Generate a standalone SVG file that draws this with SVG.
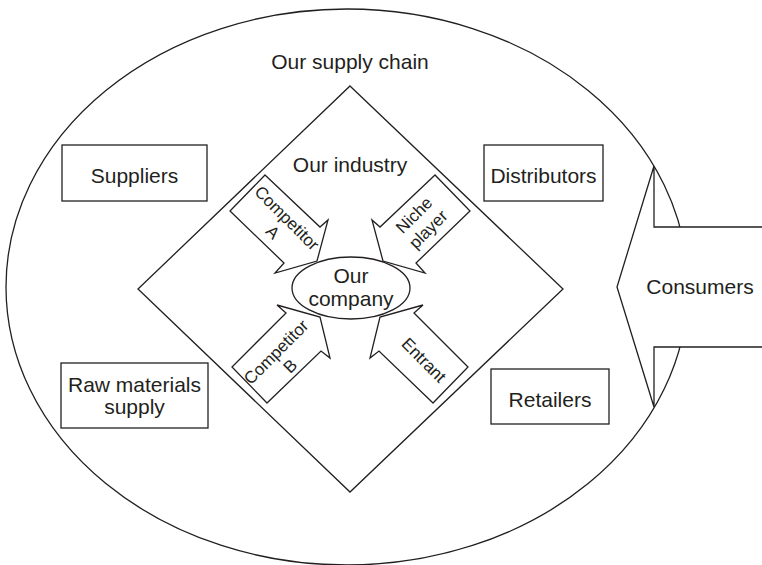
<svg xmlns="http://www.w3.org/2000/svg" width="762" height="565" viewBox="0 0 762 565">
<style>
.ln{fill:none;stroke:#231f20;stroke-width:1.3}
.wf{fill:#fff;stroke:#231f20;stroke-width:1.3;stroke-linejoin:miter}
.t{font-family:"Liberation Sans",Arial,sans-serif;font-size:21px;fill:#231f20;text-anchor:middle}
.s{font-family:"Liberation Sans",Arial,sans-serif;font-size:17px;fill:#231f20;text-anchor:middle}
</style>
<rect width="762" height="565" fill="#fff"/>
<g id="supply-chain">
<ellipse class="ln" cx="347" cy="287" rx="341" ry="278"/>
<text class="t" x="350" y="69">Our supply chain</text>
</g>
<g id="suppliers">
<rect class="wf" x="62" y="145" width="145" height="56"/>
<text class="t" x="134.5" y="183">Suppliers</text>
</g>
<g id="raw-materials">
<rect class="wf" x="61" y="363" width="147" height="65"/>
<text class="t" x="134.5" y="392">Raw materials</text>
<text class="t" x="134.5" y="414">supply</text>
</g>
<g id="distributors">
<rect class="wf" x="484" y="145" width="119" height="56"/>
<text class="t" x="543.5" y="183">Distributors</text>
</g>
<g id="retailers">
<rect class="wf" x="491" y="369" width="118" height="55"/>
<text class="t" x="550" y="407">Retailers</text>
</g>
<g id="industry">
<polygon class="ln" points="350,86 563,289 350,492 138,289"/>
<text class="t" x="350" y="172">Our industry</text>
</g>
<g id="connectors">
<g id="competitor-a">
<polygon class="wf" points="265,175 320,227 328,220 317,261 275,273 284,263 230,211"/>
<text class="s" transform="translate(280,225) rotate(45)"><tspan x="0" y="-4">Competitor</tspan><tspan x="0" y="16">A</tspan></text>
</g>
<g id="niche-player">
<polygon class="wf" points="435,175 380,227 372,220 383,261 425,273 416,263 470,211"/>
<text class="s" transform="translate(421,222) rotate(-45)"><tspan x="0" y="-4">Niche</tspan><tspan x="0" y="16">player</tspan></text>
</g>
<g id="competitor-b">
<polygon class="wf" points="267,403 321,351 330,358 320,317 277,305 286,313 232,367"/>
<text class="s" transform="translate(283,359) rotate(-45)"><tspan x="0" y="-4">Competitor</tspan><tspan x="0" y="16">B</tspan></text>
</g>
<g id="entrant">
<polygon class="wf" points="433,403 379,351 370,358 380,317 423,305 414,313 468,367"/>
<text class="s" transform="translate(424,360) rotate(45)"><tspan x="0" y="6">Entrant</tspan></text>
</g>
</g>
<g id="our-company">
<ellipse class="wf" cx="351" cy="288" rx="59" ry="31"/>
<text class="t" x="351" y="283">Our</text>
<text class="t" x="351" y="306">company</text>
</g>
<g id="consumers">
<polygon class="wf" points="766,227 654,227 654,166 617,287 654,407 654,347 766,347"/>
<text class="t" x="700" y="294">Consumers</text>
</g>
</svg>
